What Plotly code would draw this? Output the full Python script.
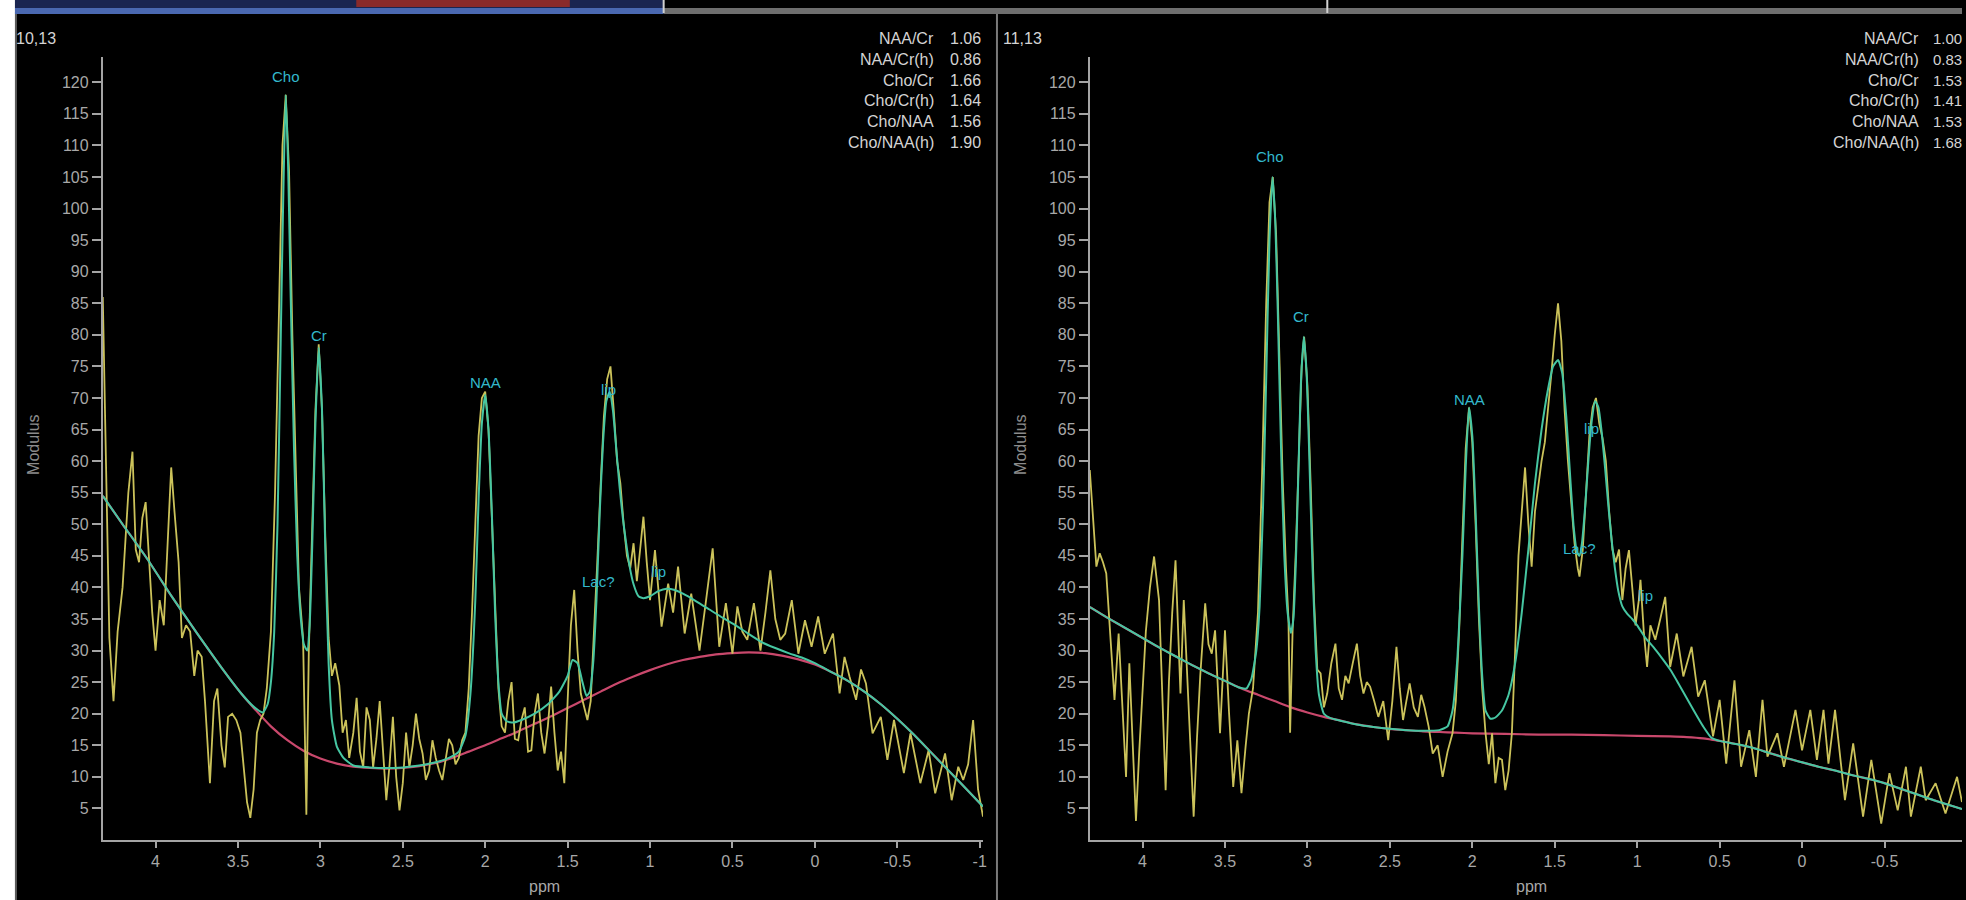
import plotly.graph_objects as go

# ---------------- data: voxel 10,13 (left) ----------------
left_raw_ppm = [4.32, 4.30, 4.28, 4.255, 4.23, 4.20, 4.165, 4.14, 4.12, 4.10, 4.08, 4.06, 4.04, 4.02, 4.00,
                3.975, 3.95, 3.925, 3.905, 3.885, 3.86, 3.84, 3.815, 3.79, 3.765, 3.745, 3.72, 3.70, 3.67,
                3.645, 3.625, 3.60, 3.58, 3.56, 3.535, 3.51, 3.485, 3.465, 3.445, 3.425, 3.405, 3.385, 3.365,
                3.345, 3.325, 3.30, 3.275, 3.25, 3.23, 3.21, 3.19, 3.17, 3.15, 3.13, 3.105, 3.085, 3.07, 3.05,
                3.03, 3.01, 2.99, 2.97, 2.95, 2.93, 2.91, 2.885, 2.865, 2.845, 2.825, 2.80, 2.78, 2.76, 2.74,
                2.72, 2.70, 2.68, 2.66, 2.64, 2.62, 2.60, 2.58, 2.56, 2.54, 2.52, 2.50, 2.48, 2.46, 2.44, 2.42,
                2.40, 2.38, 2.36, 2.34, 2.32, 2.30, 2.28, 2.26, 2.24, 2.22, 2.20, 2.18, 2.16, 2.14, 2.12, 2.10,
                2.08, 2.06, 2.04, 2.02, 2.00, 1.98, 1.96, 1.94, 1.92, 1.90, 1.88, 1.86, 1.84, 1.82, 1.80, 1.78,
                1.76, 1.74, 1.72, 1.70, 1.68, 1.66, 1.64, 1.62, 1.60, 1.58, 1.56, 1.54, 1.52, 1.50, 1.48, 1.46,
                1.44, 1.42, 1.40, 1.38, 1.36, 1.34, 1.32, 1.30, 1.28, 1.26, 1.24, 1.22, 1.20, 1.18, 1.16, 1.14,
                1.12, 1.10, 1.08, 1.06, 1.04, 1.02, 1.00, 0.97, 0.93, 0.89, 0.86, 0.83, 0.79, 0.75, 0.70, 0.66,
                0.62, 0.58, 0.54, 0.50, 0.47, 0.44, 0.41, 0.37, 0.33, 0.30, 0.27, 0.24, 0.21, 0.18, 0.14, 0.10,
                0.06, 0.02, -0.02, -0.06, -0.11, -0.15, -0.18, -0.21, -0.25, -0.28, -0.31, -0.35, -0.40, -0.44,
                -0.48, -0.54, -0.58, -0.64, -0.69, -0.73, -0.79, -0.83, -0.87, -0.90, -0.93, -0.96, -0.99, -1.02]
left_raw_val = [86, 58, 32, 22, 33, 40, 55, 61.5, 46, 44, 51, 53.5, 44, 36, 30,
                38, 34, 47, 59, 52, 44, 32, 34, 33, 26, 30, 29, 22, 9,
                22, 24, 15, 11.5, 19.5, 20, 19, 17, 11.5, 6, 3.5, 8, 17, 19,
                20, 24, 33, 55, 85, 110, 118, 106, 80, 58, 40, 32, 4, 30, 48,
                68, 78.5, 68, 48, 32, 26, 28, 24.5, 17, 19, 13, 17, 22.5, 14, 11.5,
                21, 19, 11.5, 16, 22, 14, 6.3, 12, 19.5, 10, 4.7, 9, 17, 11.5, 15, 20,
                16, 13.7, 9.5, 11, 15.8, 13, 11, 9.5, 13, 16, 15, 12, 13, 15.8, 17, 24,
                36, 50, 64, 70, 71, 65, 52, 36, 24, 18, 17, 22, 25, 16, 15.8, 19,
                21, 14, 14.2, 20, 23.2, 17, 13.7, 18, 24.3, 17, 11, 14, 9, 22, 34, 39.6,
                30, 23.2, 21, 19, 22, 32, 44, 56, 67, 73, 75, 68, 60, 56.5, 50, 45,
                43, 47, 41, 46, 51.2, 44, 38, 45.9, 33.8, 40.6, 36, 43.3, 32.7, 39, 30, 38,
                46.2, 30.6, 37.5, 29.5, 37, 33, 31.7, 37.5, 30, 36, 42.7, 35, 31.7, 32.7, 38, 29.5,
                34.8, 30.6, 35.4, 29.5, 32.7, 23.2, 29, 25.9, 22.2, 27, 24.8, 16.9, 19.5, 12.7,
                19, 10.6, 16.9, 9, 14.2, 7.4, 13.7, 6.3, 11.6, 9.5, 12, 19, 8, 3.7]

left_fit_ppm = [4.32, 4.20, 4.05, 3.90, 3.75, 3.60, 3.48, 3.40, 3.35, 3.32, 3.30, 3.28, 3.26, 3.24, 3.225,
                3.21, 3.195, 3.18, 3.16, 3.14, 3.12, 3.10, 3.08, 3.065, 3.05, 3.03, 3.01, 2.99, 2.97, 2.95,
                2.93, 2.90, 2.86, 2.80, 2.70, 2.60, 2.50, 2.40, 2.30, 2.22, 2.16, 2.12, 2.09, 2.06, 2.04,
                2.02, 2.00, 1.98, 1.96, 1.94, 1.92, 1.90, 1.87, 1.83, 1.78, 1.70, 1.62, 1.55, 1.50, 1.47,
                1.44, 1.41, 1.385, 1.365, 1.345, 1.325, 1.305, 1.285, 1.265, 1.245, 1.225, 1.205, 1.185,
                1.165, 1.145, 1.125, 1.10, 1.07, 1.04, 1.00, 0.95, 0.90, 0.85, 0.80, 0.72, 0.64, 0.56,
                0.48, 0.40, 0.32, 0.24, 0.16, 0.08, 0.00, -0.10, -0.20, -0.30, -0.40, -0.50, -0.60, -0.70,
                -0.80, -0.90, -1.02]
left_fit_val = [54.5, 50.0, 44.5, 38.5, 32.8, 27.3, 23.2, 21.0, 20.2, 21.5, 25.0, 33.0, 50.0, 80.0, 102.0,
                118.0, 106.0, 86.0, 62.0, 45.0, 35.5, 31.0, 30.0, 34.0, 46.0, 66.0, 78.0, 68.0, 46.0, 28.0,
                19.0, 14.8, 13.0, 11.8, 11.5, 11.4, 11.5, 11.8, 12.3, 13.0, 14.0, 16.5, 23.0, 38.0, 54.0,
                66.0, 70.5, 65.0, 52.0, 36.0, 25.0, 20.0, 18.8, 18.6, 19.0, 20.0, 21.5, 23.5, 26.0, 28.5,
                28.0, 25.0, 22.8, 23.5, 28.0, 38.0, 52.0, 63.0, 69.5, 71.0, 68.0, 62.0, 56.0,
                51.0, 47.0, 43.5, 40.5, 38.6, 38.3, 38.6, 39.4, 39.8, 39.6, 39.0, 37.8, 36.5, 35.2,
                34.0, 32.6, 31.3, 30.4, 29.6, 28.9, 28.0, 26.6, 25.2, 23.5, 21.5, 19.2, 16.7, 14.0,
                11.3, 8.6, 5.3]

left_base_ppm = [4.32, 4.20, 4.05, 3.90, 3.75, 3.60, 3.48, 3.40, 3.30, 3.20, 3.10, 3.00, 2.90, 2.80, 2.70,
                 2.60, 2.50, 2.40, 2.30, 2.20, 2.10, 2.00, 1.90, 1.80, 1.70, 1.60, 1.50, 1.40, 1.30, 1.20,
                 1.10, 1.00, 0.90, 0.80, 0.70, 0.60, 0.50, 0.40, 0.30, 0.20, 0.10, 0.00, -0.10, -0.20,
                 -0.30, -0.40, -0.50, -0.60, -0.70, -0.80, -0.90, -1.02]
left_base_val = [54.5, 50.0, 44.5, 38.5, 32.8, 27.3, 23.2, 20.8, 18.0, 15.8, 14.1, 12.9, 12.1, 11.6, 11.4,
                 11.3, 11.4, 11.7, 12.2, 13.0, 14.0, 15.0, 16.1, 17.2, 18.4, 19.6, 20.9, 22.2, 23.5, 24.8,
                 25.9, 26.9, 27.8, 28.5, 29.0, 29.4, 29.6, 29.7, 29.6, 29.2, 28.6, 27.8, 26.6, 25.2,
                 23.5, 21.5, 19.2, 16.7, 14.0, 11.3, 8.6, 5.3]

left_ratio_names = ["NAA/Cr", "NAA/Cr(h)", "Cho/Cr", "Cho/Cr(h)", "Cho/NAA", "Cho/NAA(h)"]
left_ratio_values = ["1.06", "0.86", "1.66", "1.64", "1.56", "1.90"]
left_peak_names = ["Cho", "Cr", "NAA", "lip", "Lac?", "lip"]
left_peak_ppm = [3.21, 3.01, 2.00, 1.25, 1.315, 0.95]
left_peak_val = [120.9, 79.9, 72.4, 71.3, 41.0, 42.5]

# ---------------- data: voxel 11,13 (right) ----------------
right_raw_ppm = [4.32, 4.30, 4.28, 4.26, 4.24, 4.22, 4.19, 4.17, 4.145, 4.12, 4.10, 4.08, 4.06, 4.04, 4.02,
                 4.00, 3.98, 3.955, 3.93, 3.90, 3.88, 3.86, 3.84, 3.82, 3.80, 3.78, 3.77, 3.75, 3.73, 3.71,
                 3.69, 3.67, 3.65, 3.62, 3.60, 3.58, 3.56, 3.53, 3.50, 3.475, 3.45, 3.425, 3.40, 3.375,
                 3.355, 3.33, 3.30, 3.275, 3.25, 3.23, 3.21, 3.19, 3.17, 3.15, 3.13, 3.115, 3.105, 3.09,
                 3.07, 3.05, 3.035, 3.02, 3.00, 2.98, 2.96, 2.94, 2.92, 2.90, 2.88, 2.855, 2.83, 2.81, 2.79,
                 2.77, 2.75, 2.725, 2.70, 2.68, 2.66, 2.64, 2.62, 2.595, 2.57, 2.54, 2.51, 2.485, 2.46,
                 2.44, 2.42, 2.40, 2.38, 2.355, 2.33, 2.31, 2.29, 2.265, 2.24, 2.21, 2.18, 2.15, 2.12,
                 2.10, 2.08, 2.06, 2.04, 2.02, 2.00, 1.98, 1.96, 1.94, 1.92, 1.90, 1.88, 1.86, 1.84, 1.82,
                 1.80, 1.78, 1.76, 1.74, 1.72, 1.70, 1.68, 1.66, 1.64, 1.62, 1.60, 1.58, 1.56, 1.54, 1.52,
                 1.50, 1.48, 1.46, 1.44, 1.42, 1.40, 1.38, 1.36, 1.35, 1.33, 1.31, 1.29, 1.27, 1.25, 1.23,
                 1.21, 1.19, 1.17, 1.15, 1.13, 1.11, 1.09, 1.07, 1.05, 1.03, 1.01, 0.99, 0.98, 0.96, 0.94,
                 0.92, 0.89, 0.86, 0.83, 0.80, 0.76, 0.72, 0.67, 0.63, 0.59, 0.54, 0.50, 0.46, 0.41, 0.37,
                 0.32, 0.28, 0.24, 0.21, 0.15, 0.11, 0.04, 0.00, -0.05, -0.09, -0.13, -0.16, -0.20, -0.26,
                 -0.31, -0.37, -0.42, -0.48, -0.53, -0.58, -0.63, -0.66, -0.72, -0.75, -0.81, -0.87, -0.91,
                 -0.94, -0.97]
right_raw_val = [58.6, 50, 43.3, 45.4, 44, 42.2, 30, 22.2, 32.7, 20, 10, 28, 16, 3, 14,
                 23.2, 33, 40, 44.9, 38, 22, 7.9, 25, 36, 44.3, 30, 23.2, 38, 26, 14,
                 3.7, 16, 26, 37.5, 31, 29.5, 33.2, 16.9, 33.2, 20, 8.4, 15.8, 7.4, 14.8,
                 20, 24, 36, 58, 85, 101, 105, 96, 77, 57, 43, 35, 17, 33,
                 46, 64, 75, 79.7, 72, 56, 38, 27, 26.4, 21, 23.2, 28, 31.1, 24, 22.2,
                 26, 24.8, 28, 31.1, 26, 23.2, 25, 24.3, 22, 19.5, 22, 15.8, 22, 30.6,
                 24, 19, 22, 24.8, 21, 19.5, 23, 21.1, 18, 13.7, 15, 10, 14, 16.9,
                 22, 33, 48, 62, 68.5, 63, 50, 35, 24, 17, 12, 16.9, 9, 13, 12.7,
                 7.9, 11, 16.9, 30, 45, 52, 59, 50, 43.3, 52, 56.5, 60, 63, 68, 74,
                 80, 85, 79, 68, 60, 53, 47, 43, 41.7, 46, 56, 64, 68.5, 70, 66,
                 63.6, 60, 52, 46, 44, 46, 38, 43, 45.9, 40, 34, 38, 41.2, 33, 27.4,
                 34, 31.7, 35, 38.5, 27.4, 32.7, 25.9, 30.6, 22.7, 25.3, 16.4, 22.2, 12.1, 25.3, 11.6,
                 17.4, 10, 22.2, 13.2, 16.9, 11.6, 20.6, 14.2, 20.6, 12.7, 20.6, 12.1, 20.6, 6.3,
                 15.3, 3.7, 12.7, 2.6, 10.6, 4.7, 11.6, 3.7, 11.6, 6.3, 9, 4.2, 7.4,
                 10, 6]

right_fit_ppm = [4.32, 4.20, 4.10, 4.00, 3.90, 3.80, 3.70, 3.60, 3.50, 3.42, 3.37, 3.34, 3.31, 3.29, 3.27,
                 3.25, 3.23, 3.212, 3.195, 3.18, 3.16, 3.14, 3.12, 3.10, 3.085, 3.07, 3.055, 3.04, 3.022,
                 3.005, 2.99, 2.97, 2.95, 2.93, 2.90, 2.86, 2.80, 2.70, 2.60, 2.50, 2.40, 2.30, 2.20, 2.15,
                 2.12, 2.09, 2.06, 2.04, 2.02, 2.00, 1.98, 1.96, 1.94, 1.92, 1.89, 1.86, 1.82, 1.78, 1.74,
                 1.70, 1.66, 1.62, 1.58, 1.54, 1.51, 1.48, 1.455, 1.43, 1.405, 1.385, 1.365, 1.35, 1.335,
                 1.315, 1.295, 1.275, 1.255, 1.235, 1.215, 1.195, 1.175, 1.155, 1.135, 1.115, 1.09, 1.06,
                 1.03, 1.00, 0.95, 0.90, 0.85, 0.80, 0.75, 0.70, 0.65, 0.60, 0.55, 0.50, 0.40, 0.30, 0.20,
                 0.10, 0.00, -0.10, -0.20, -0.30, -0.40, -0.50, -0.60, -0.70, -0.80, -0.97]
right_fit_val = [36.9, 35.0, 33.5, 32.0, 30.5, 29.1, 27.7, 26.4, 25.2, 24.2, 24.0, 25.5, 30.0, 37.0, 52.0,
                 73.0, 95.0, 105.0, 98.0, 84.0, 62.0, 45.0, 36.0, 32.8, 35.0, 44.0, 58.0, 72.0, 79.7,
                 74.0, 62.0, 44.0, 30.0, 23.0, 20.0, 19.3, 18.9, 18.3, 17.9, 17.6, 17.4, 17.3, 17.4, 18.0,
                 20.5, 29.0, 45.0, 59.0, 68.5, 64.0, 52.0, 37.0, 26.0, 20.5, 19.2, 19.4, 20.5, 23.0, 28.0,
                 36.0, 46.0, 56.5, 65.0, 71.5, 75.0, 76.0, 74.0, 67.0, 57.0, 49.5, 45.5, 45.0, 47.0,
                 53.0, 60.5, 66.5, 69.5, 68.5, 64.5, 59.0, 53.0, 47.5, 43.0, 39.5, 37.0, 35.8,
                 35.0, 34.0, 32.0, 30.5, 28.8, 27.0, 24.8, 22.5, 20.2, 18.0, 16.2, 15.7, 15.2, 14.6, 13.8,
                 13.0, 12.3, 11.6, 11.0, 10.3, 9.7, 9.0, 8.1, 7.2, 6.3, 4.9]

right_base_ppm = [4.32, 4.20, 4.10, 4.00, 3.90, 3.80, 3.70, 3.60, 3.50, 3.40, 3.30, 3.20, 3.10, 3.00, 2.90,
                  2.80, 2.70, 2.60, 2.50, 2.40, 2.30, 2.20, 2.10, 2.00, 1.80, 1.60, 1.40, 1.20, 1.00, 0.80,
                  0.70, 0.60, 0.55, 0.50, 0.40, 0.30, 0.20, 0.10, 0.00, -0.10, -0.20, -0.30, -0.40, -0.50,
                  -0.60, -0.70, -0.80, -0.97]
right_base_val = [36.9, 35.0, 33.5, 32.0, 30.5, 29.1, 27.7, 26.4, 25.2, 24.0, 23.0, 22.0, 21.0, 20.2, 19.5,
                  18.9, 18.3, 17.9, 17.6, 17.4, 17.2, 17.1, 17.0, 16.9, 16.8, 16.7, 16.7, 16.6, 16.5, 16.4,
                  16.3, 16.1, 15.9, 15.7, 15.2, 14.6, 13.8, 13.0, 12.3, 11.6, 11.0, 10.3, 9.7, 9.0,
                  8.1, 7.2, 6.3, 4.9]

right_ratio_names = ["NAA/Cr", "NAA/Cr(h)", "Cho/Cr", "Cho/Cr(h)", "Cho/NAA", "Cho/NAA(h)"]
right_ratio_values = ["1.00", "0.83", "1.53", "1.41", "1.53", "1.68"]
right_peak_names = ["Cho", "Cr", "NAA", "lip", "Lac?", "lip"]
right_peak_ppm = [3.224, 3.04, 2.02, 1.28, 1.35, 0.95]
right_peak_val = [108.2, 82.9, 69.7, 65.2, 46.2, 38.8]

panel_titles = ["10,13", "11,13"]
x_tick_vals = [4, 3.5, 3, 2.5, 2, 1.5, 1, 0.5, 0, -0.5, -1]
x_tick_text = ["4", "3.5", "3", "2.5", "2", "1.5", "1", "0.5", "0", "-0.5", "-1"]
y_tick_vals = list(range(5, 121, 5))

# ---------------- styling ----------------
W, H = 1966, 900
FONT = "Liberation Sans, Arial, sans-serif"
RAW_C = "#cbc25a"
FIT_C = "#46c6a2"
BASE_C = "#c9486c"
AXIS_C = "#a4a4a4"
LABEL_C = "#33b8cc"
TEXT_C = "#d4d4d4"


def px(x):
    return x / W


def py(y):
    return 1 - y / H


fig = go.Figure()

panels = [
    dict(xa="x", ya="y", raw=(left_raw_ppm, left_raw_val), fit=(left_fit_ppm, left_fit_val),
         base=(left_base_ppm, left_base_val)),
    dict(xa="x2", ya="y2", raw=(right_raw_ppm, right_raw_val), fit=(right_fit_ppm, right_fit_val),
         base=(right_base_ppm, right_base_val)),
]
for p in panels:
    fig.add_trace(go.Scatter(x=p["base"][0], y=p["base"][1], mode="lines",
                             line=dict(color=BASE_C, width=2.2, shape="spline", smoothing=0.6),
                             xaxis=p["xa"], yaxis=p["ya"], hoverinfo="skip"))
    fig.add_trace(go.Scatter(x=p["raw"][0], y=p["raw"][1], mode="lines",
                             line=dict(color=RAW_C, width=1.8),
                             xaxis=p["xa"], yaxis=p["ya"], hoverinfo="skip"))
    fig.add_trace(go.Scatter(x=p["fit"][0], y=p["fit"][1], mode="lines",
                             line=dict(color=FIT_C, width=2, shape="spline", smoothing=0.5),
                             xaxis=p["xa"], yaxis=p["ya"], hoverinfo="skip"))

axis_common = dict(showgrid=False, zeroline=False, showline=True, linecolor=AXIS_C, linewidth=2,
                   ticks="outside", tickcolor=AXIS_C, tickwidth=1.5,
                   tickfont=dict(family=FONT, size=16, color="#a8a8a8"))

fig.update_layout(
    width=W, height=H, margin=dict(l=0, r=0, t=0, b=0),
    paper_bgcolor="black", plot_bgcolor="black", showlegend=False,
    xaxis=dict(domain=[px(103), px(985)], range=[4.32, -1.02], anchor="y",
               tickvals=x_tick_vals, ticktext=x_tick_text, ticklen=6, **axis_common),
    yaxis=dict(domain=[py(840), py(57)], range=[0, 124], anchor="x",
               tickvals=y_tick_vals, ticklen=9, **axis_common),
    xaxis2=dict(domain=[px(1092), 1.0], range=[4.32, -0.97], anchor="y2",
                tickvals=x_tick_vals, ticktext=x_tick_text, ticklen=6, **axis_common),
    yaxis2=dict(domain=[py(840), py(57)], range=[0, 124], anchor="x2",
                tickvals=y_tick_vals, ticklen=9, **axis_common),
)

ann = []
# peak labels
for names, xs, ys, xr, yr in [(left_peak_names, left_peak_ppm, left_peak_val, "x", "y"),
                              (right_peak_names, right_peak_ppm, right_peak_val, "x2", "y2")]:
    for n, xv, yv in zip(names, xs, ys):
        ann.append(dict(x=xv, y=yv, xref=xr, yref=yr, text=n, showarrow=False,
                        font=dict(family=FONT, size=15, color=LABEL_C)))

# ratio blocks (left: label column right edge 938, values from 950; right block nudged to fit the edge)
line_y = [38, 59, 80, 100, 121, 142]
for names, vals, lab_x, val_x, vsize in [(left_ratio_names, left_ratio_values, 938, 950, 16),
                                         (right_ratio_names, right_ratio_values, 1925, 1935, 15)]:
    for n, v, yy in zip(names, vals, line_y):
        ann.append(dict(x=px(lab_x), y=py(yy), xref="paper", yref="paper", text=n,
                        xanchor="right", yanchor="middle", showarrow=False,
                        font=dict(family=FONT, size=16, color=TEXT_C)))
        ann.append(dict(x=px(val_x), y=py(yy), xref="paper", yref="paper", text=v,
                        xanchor="left", yanchor="middle", showarrow=False,
                        font=dict(family=FONT, size=vsize, color=TEXT_C)))

# panel ids, axis titles
for t, shift in zip(panel_titles, [0, 989]):
    ann.append(dict(x=px(14 + shift), y=py(38), xref="paper", yref="paper", text=t,
                    xanchor="left", yanchor="middle", showarrow=False,
                    font=dict(family=FONT, size=16, color=TEXT_C)))
    ann.append(dict(x=px(33 + shift), y=py(445), xref="paper", yref="paper", text="Modulus",
                    textangle=-90, xanchor="center", yanchor="middle", showarrow=False,
                    font=dict(family=FONT, size=16, color="#8c8c8c")))
    ann.append(dict(x=px(546 + shift), y=py(886), xref="paper", yref="paper", text="ppm",
                    xanchor="center", yanchor="middle", showarrow=False,
                    font=dict(family=FONT, size=16, color="#a8a8a8")))
fig.update_layout(annotations=ann)

# window chrome (top strip, left margin, divider)
shapes = [
    dict(type="rect", xref="paper", yref="paper", x0=0, x1=px(15), y0=0, y1=1,
         fillcolor="white", line=dict(width=0)),
    dict(type="line", xref="paper", yref="paper", x0=px(16), x1=px(16), y0=0, y1=py(12),
         line=dict(color="#5a5a5a", width=2)),
    dict(type="rect", xref="paper", yref="paper", x0=px(15), x1=px(665), y0=py(8), y1=1,
         fillcolor="#1a2550", line=dict(width=0)),
    dict(type="rect", xref="paper", yref="paper", x0=px(357), x1=px(571), y0=py(7), y1=1,
         fillcolor="#8a2a2a", line=dict(width=0)),
    dict(type="rect", xref="paper", yref="paper", x0=px(15), x1=px(665), y0=py(14), y1=py(8),
         fillcolor="#4a68b0", line=dict(width=0)),
    dict(type="rect", xref="paper", yref="paper", x0=px(665), x1=1, y0=py(14), y1=py(8),
         fillcolor="#6e6e6e", line=dict(width=0)),
    dict(type="line", xref="paper", yref="paper", x0=px(665), x1=px(665), y0=py(13), y1=1,
         line=dict(color="#d0d0d0", width=2)),
    dict(type="line", xref="paper", yref="paper", x0=px(1330), x1=px(1330), y0=py(13), y1=1,
         line=dict(color="#d0d0d0", width=2)),
    dict(type="line", xref="paper", yref="paper", x0=px(999), x1=px(999), y0=0, y1=py(14),
         line=dict(color="#7a7a7a", width=2)),
]
fig.update_layout(shapes=shapes)

fig.write_html("out.html", config={"displayModeBar": False},
               post_script="document.body.style.margin='0';document.body.style.overflow='hidden';")
